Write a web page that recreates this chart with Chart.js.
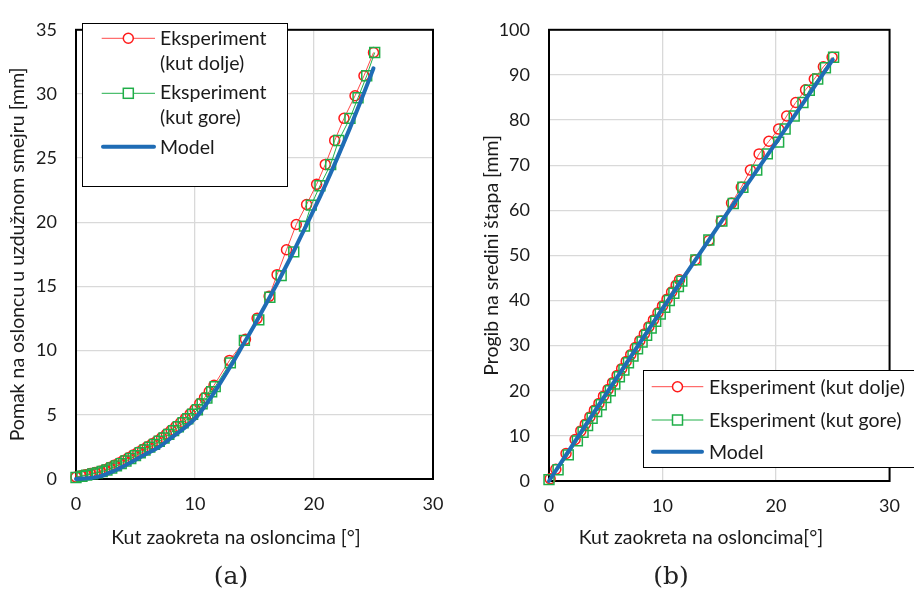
<!DOCTYPE html>
<html><head><meta charset="utf-8">
<script src="https://cdn.jsdelivr.net/npm/chart.js@4.4.0/dist/chart.umd.min.js"></script>
<style>
html,body{margin:0;padding:0;background:#fff;}
body{width:914px;height:591px;position:relative;overflow:hidden;font-family:Lato,sans-serif;color:#1a1a1a;}
canvas{position:absolute;top:0;}
#cA{left:0;} #cB{left:460px;}
.t{position:absolute;font-size:19.5px;line-height:24px;white-space:nowrap;}
.xt{transform:translateX(-50%);}
.box{position:absolute;border:1.5px solid #000;background:#fff;box-sizing:border-box;}
.cap{position:absolute;font-family:'DejaVu Serif',serif;font-size:25px;line-height:30px;transform:translateX(-50%);color:#222;}
svg{position:absolute;left:0;top:0;}
</style></head>
<body>
<canvas id="cA" width="460" height="591"></canvas>
<canvas id="cB" width="454" height="591"></canvas>

<div class="box" style="left:82px;top:23px;width:206px;height:164px;"></div>
<div class="box" style="left:643px;top:370px;width:290px;height:98px;"></div>
<svg width="914" height="591">
  <line x1="101.7" y1="38.3" x2="155" y2="38.3" stroke="#ff4a4a" stroke-width="1"/>
  <circle cx="128.3" cy="38.3" r="5" fill="#fff" stroke="#ff1a1a" stroke-width="1.5"/>
  <line x1="101.7" y1="93.3" x2="155" y2="93.3" stroke="#22b04b" stroke-width="1"/>
  <rect x="123.3" y="88.3" width="10" height="10" fill="#fff" stroke="#1fae48" stroke-width="1.5"/>
  <line x1="103" y1="146.7" x2="154" y2="146.7" stroke="#1f6cb5" stroke-width="4" stroke-linecap="round"/>

  <line x1="651.7" y1="386.7" x2="703.3" y2="386.7" stroke="#ff4a4a" stroke-width="1"/>
  <circle cx="677.5" cy="386.7" r="5" fill="#fff" stroke="#ff1a1a" stroke-width="1.5"/>
  <line x1="651.7" y1="420" x2="703.3" y2="420" stroke="#22b04b" stroke-width="1"/>
  <rect x="672.5" y="415" width="10" height="10" fill="#fff" stroke="#1fae48" stroke-width="1.5"/>
  <line x1="653" y1="451.7" x2="702" y2="451.7" stroke="#1f6cb5" stroke-width="4" stroke-linecap="round"/>
</svg>
<div class="t xt" style="left:236px;top:525px;" id="xtA"></div>
<div class="t xt" style="left:701px;top:525px;" id="xtB"></div>
<div class="cap" style="left:231px;top:561px;">(a)</div>
<div class="cap" style="left:671px;top:561px;">(b)</div>

<script>
// ---------- Data ----------
const seriesNames = ['Eksperiment (kut dolje)', 'Eksperiment (kut gore)', 'Model'];
const xTitleA = 'Kut zaokreta na osloncima [°]';
const yTitleA = 'Pomak na osloncu u uzdužnom smejru [mm]';
const xTitleB = 'Kut zaokreta na osloncima[°]';
const yTitleB = 'Progib na sredini štapa [mm]';

// Chart (a): displacement at support
const angleDownA = [0.0,0.4,0.8,1.2,1.6,2.0,2.4,2.8,3.2,3.6,4.0,4.4,4.8,5.2,5.6,6.0,6.4,6.8,7.2,7.6,8.0,8.4,8.8,9.2,9.6,10.0,10.4,10.8,11.2,11.6,
  12.9,14.24,15.22,16.23,16.9,17.69,18.51,19.38,20.22,20.95,21.74,22.52,23.45,24.2,25.0];
const dispDownA = [0.15,0.25,0.33,0.42,0.5,0.6,0.73,0.9,1.07,1.24,1.45,1.66,1.87,2.08,2.3,2.52,2.74,2.96,3.22,3.5,3.8,4.1,4.4,4.72,5.07,5.42,5.88,6.34,6.82,7.3,
  9.24,10.88,12.52,14.23,15.92,17.86,19.83,21.39,22.96,24.51,26.38,28.1,29.86,31.42,33.23];
const angleUpA = [0.0,0.5,0.9,1.4,1.8,2.2,2.6,3.0,3.4,3.8,4.2,4.6,5.0,5.4,5.8,6.2,6.6,7.0,7.4,7.8,8.2,8.6,9.0,9.4,9.8,10.2,10.6,11.0,11.4,11.7,
  12.97,14.15,15.36,16.29,17.24,18.3,19.2,19.77,20.5,21.4,22.07,23.02,23.7,24.43,25.1];
const dispUpA = [0.12,0.22,0.3,0.4,0.48,0.58,0.7,0.86,1.02,1.2,1.4,1.6,1.82,2.04,2.26,2.48,2.7,2.94,3.2,3.48,3.77,4.07,4.38,4.7,5.04,5.4,5.85,6.3,6.8,7.2,
  9.05,10.8,12.4,14.16,15.85,17.7,19.7,21.34,22.85,24.51,26.38,28.1,29.7,31.42,33.23];
const modelAngleA = [0,1,2,3,4,5,6,7,8,9,10,11,12,13,14,15,16,17,18,19,20,21,22,23,24,25];
const modelDispA = [0,0.05,0.2,0.55,1.0,1.5,2.0,2.5,3.2,3.9,4.7,5.9,7.3,8.8,10.4,12.0,13.7,15.4,17.2,19.1,21.0,23.0,25.1,27.3,29.6,32.0];

// Chart (b): mid-span deflection
const angleDownB = [0.1,0.6,1.5,2.3,2.8,3.2,3.6,4.0,4.4,4.8,5.2,5.6,6.0,6.4,6.8,7.2,7.6,8.0,8.4,8.8,9.2,9.6,10.0,10.4,10.8,11.2,11.5,
  12.88,14.08,15.17,16.08,16.94,17.74,18.51,19.37,20.23,20.94,21.74,22.6,23.37,24.17,24.94];
const deflDownB = [0.5,2.6,6.1,9.2,11.1,12.6,14.2,15.7,17.2,18.8,20.3,21.8,23.4,24.9,26.5,28.0,29.6,31.1,32.6,34.2,35.7,37.3,38.8,40.3,41.9,43.4,44.6,
  49.0,53.3,57.6,61.6,65.1,68.9,72.5,75.3,78.0,80.9,83.9,86.7,89.1,91.8,93.9];
const angleUpB = [0.0,0.8,1.7,2.5,3.0,3.4,3.8,4.2,4.6,5.0,5.4,5.8,6.2,6.6,7.0,7.4,7.8,8.2,8.6,9.0,9.4,9.8,10.2,10.6,11.0,11.4,11.7,
  12.94,14.08,15.23,16.23,17.08,18.3,19.23,20.23,20.8,21.6,22.37,22.93,23.67,24.35,25.07];
const deflUpB = [0.3,2.5,5.8,8.9,10.8,12.3,13.9,15.4,16.9,18.5,20.0,21.5,23.1,24.6,26.2,27.7,29.3,30.8,32.3,33.9,35.4,37.0,38.5,40.0,41.6,43.1,44.3,
  49.0,53.4,57.6,61.5,65.1,68.9,72.5,75.1,78.0,80.9,83.9,86.6,89.1,91.6,93.9];
const modelAngleB = [0,5,10,15,20,25];
const modelDeflB = [0,19.2,38.2,56.8,75.0,93.4];

// ---------- Text elements ----------
function txt(s, left, cy) {
  const d = document.createElement('div');
  d.className = 't'; d.textContent = s;
  d.style.left = left + 'px'; d.style.top = (cy - 12) + 'px';
  document.body.appendChild(d);
}
const wrapA = [['Eksperiment', '(kut dolje)'], ['Eksperiment', '(kut gore)'], ['Model']];
txt(wrapA[0][0], 160, 38.3); txt(wrapA[0][1], 160, 63.3);
txt(wrapA[1][0], 160, 91.7); txt(wrapA[1][1], 160, 116.7);
txt(wrapA[2][0], 160, 146.7);
txt(seriesNames[0], 709, 386.7);
txt(seriesNames[1], 709, 420);
txt(seriesNames[2], 709, 451.7);
document.getElementById('xtA').textContent = xTitleA;
document.getElementById('xtB').textContent = xTitleB;

// ---------- Charts ----------
const pts = (xs, ys) => xs.map((x, i) => ({x: x, y: ys[i]}));
const frame = {
  id: 'frame',
  beforeDatasetsDraw(chart) {
    const {ctx, chartArea: a} = chart;
    ctx.save(); ctx.strokeStyle = '#000'; ctx.lineWidth = 2;
    ctx.strokeRect(a.left, a.top, a.right - a.left, a.bottom - a.top);
    ctx.restore();
  }
};
const TICKFONT = {family: 'Lato', size: 18};
const TITLEFONT = {family: 'Lato', size: 19.5};
const TXT = '#1a1a1a';

function build(id, d1, d2, d3, yMax, yStep, yTitle, yTitlePad, yW, padR, padB) {
  return new Chart(document.getElementById(id), {
    type: 'scatter',
    data: {datasets: [
      {label: seriesNames[0], data: d1, showLine: true, borderColor: '#ff4a4a', borderWidth: 1,
       pointStyle: 'circle', pointRadius: 5, pointBorderColor: '#ff1a1a', pointBorderWidth: 1.5,
       pointBackgroundColor: 'rgba(0,0,0,0)', order: 3, clip: false},
      {label: seriesNames[1], data: d2, showLine: true, borderColor: '#22b04b', borderWidth: 1,
       pointStyle: 'rect', pointRadius: 7, pointBorderColor: '#1fae48', pointBorderWidth: 1.5,
       pointBackgroundColor: 'rgba(0,0,0,0)', order: 2, clip: false},
      {label: seriesNames[2], data: d3, showLine: true, borderColor: '#1f6cb5', borderWidth: 4,
       pointRadius: 0, cubicInterpolationMode: 'monotone', borderCapStyle: 'round', order: 1, clip: false}
    ]},
    options: {
      responsive: false, animation: false, devicePixelRatio: 1,
      layout: {padding: {left: 0, top: 16, right: padR, bottom: padB}},
      plugins: {legend: {display: false}, tooltip: {enabled: false}},
      scales: {
        x: {type: 'linear', min: 0, max: 30,
            ticks: {stepSize: 10, padding: 14, font: TICKFONT, color: TXT},
            grid: {color: '#d9d9d9', lineWidth: 1.3, drawTicks: false},
            border: {display: false},
            afterFit(s) { s.height = 71; }},
        y: {type: 'linear', min: 0, max: yMax,
            ticks: {stepSize: yStep, padding: 19, font: TICKFONT, color: TXT},
            grid: {color: '#d9d9d9', lineWidth: 1.3, drawTicks: false},
            border: {display: false},
            title: {display: true, text: yTitle, font: TITLEFONT, color: TXT, padding: {top: yTitlePad, bottom: 0}},
            afterFit(s) { s.width = yW; }}
      }
    },
    plugins: [frame]
  });
}

build('cA', pts(angleDownA, dispDownA), pts(angleUpA, dispUpA), pts(modelAngleA, modelDispA),
      35, 5, yTitleA, 6, 76, 27, 41);
build('cB', pts(angleDownB, deflDownB), pts(angleUpB, deflUpB), pts(modelAngleB, modelDeflB),
      100, 10, yTitleB, 20, 89, 15, 39);
</script>
</body></html>
